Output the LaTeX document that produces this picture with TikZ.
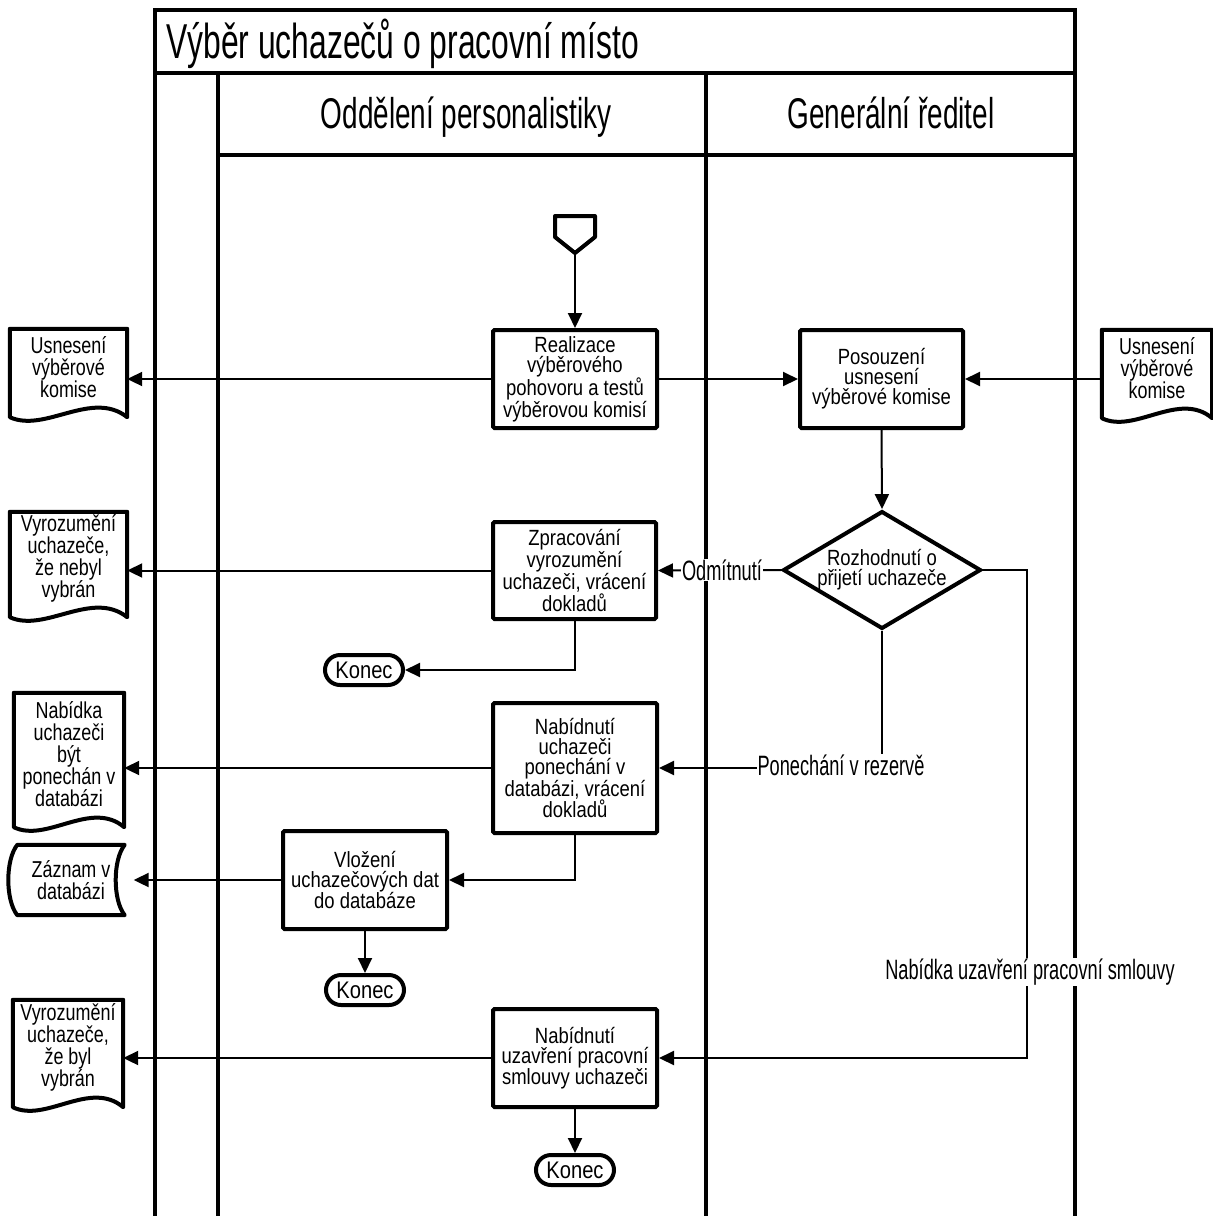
\documentclass[tikz,border=0pt]{standalone}
\usepackage{fontspec}
\setmainfont{Liberation Sans}
\newfontfamily\bigf{Liberation Sans}[FakeStretch=0.65]
\newfontfamily\smallf{Liberation Sans}[FakeStretch=0.84]
\newfontfamily\docf{Liberation Sans}[FakeStretch=0.78]
\usetikzlibrary{arrows.meta,shapes.geometric,calc}
\newcommand\drawdoc[1]{%
  \draw[line width=4pt,line join=round] (#1.north west) -- ($(#1.south west)+(0,12)$)
    .. controls ($(#1.south west)!0.3!(#1.south east)+(0,28)$) and ($(#1.south west)!0.7!(#1.south east)+(0,-16)$) ..
    ($(#1.south east)+(0,12)$) -- (#1.north east) -- cycle;}
\newcommand\drawstored[1]{%
  \draw[line width=4pt,line join=round] (#1.north west) -- (#1.north east)
    .. controls ($(#1.north east)+(-12,15)$) and ($(#1.south east)+(-12,-15)$) .. (#1.south east)
    -- (#1.south west)
    .. controls ($(#1.south west)+(-12,-15)$) and ($(#1.north west)+(-12,15)$) .. (#1.north west) -- cycle;}
\begin{document}
\begin{tikzpicture}[x=1pt,y=-1pt,
  pool/.style={line width=4.5pt},
  box/.style={draw,line width=4pt,rounded corners=1.5pt,align=center,inner sep=0pt,
    font={\smallf\fontsize{22}{20}\selectfont}},
  term/.style={draw,line width=4pt,rounded corners=15pt,inner sep=0pt,
    minimum width=78pt,minimum height=30pt,font={\smallf\fontsize{24}{20}\selectfont}},
  decision/.style={draw,diamond,line width=4pt,inner sep=0pt,align=center,
    minimum width=195pt,minimum height=116pt,aspect=1.68,font={\smallf\fontsize{22}{20}\selectfont}},
  docnode/.style={inner sep=0pt,align=center,font={\docf\fontsize{23}{22}\selectfont}},
  lbl/.style={fill=white,inner sep=1pt,font={\bigf\fontsize{28}{28}\selectfont}},
  conn/.style={line width=2pt},
  arr/.style={conn,-{Triangle[length=15pt,width=14pt]}}]
\useasboundingbox (0,0) rectangle (1213,1216);
% pool and lanes
\draw[pool] (155,1222) -- (155,10) -- (1075,10) -- (1075,1222);
\draw[pool] (155,73) -- (1075,73);
\draw[pool] (218,73) -- (218,1222);
\draw[pool] (706,73) -- (706,1222);
\draw[pool] (218,155) -- (1075,155);
\node[anchor=base west,inner sep=0pt,font={\bigf\fontsize{49}{49}\selectfont}] (title) at (166,58) {Výběr uchazečů o pracovní místo};
\node[anchor=base,inner sep=0pt,font={\bigf\fontsize{43}{43}\selectfont}] (lane1) at (466,128) {Oddělení personalistiky};
\node[anchor=base,inner sep=0pt,font={\bigf\fontsize{43}{43}\selectfont}] (lane2) at (891,128) {Generální ředitel};
% start
\draw[line width=4pt,line join=round] (555,216) -- (595,216) -- (595,237) -- (575,253) -- (555,237) -- cycle;
\coordinate (st) at (575,253);
% boxes
\node[box,minimum width=164pt,minimum height=98pt] (real) at (575,379) {Realizace\\výběrového\\pohovoru a testů\\výběrovou komisí};
\node[box,minimum width=163pt,minimum height=98pt] (pos) at (881.5,379) {Posouzení\\usnesení\\výběrové komise};
\node[decision] (dec) at (882,570) {Rozhodnutí o\\přijetí uchazeče};
\node[box,minimum width=163pt,minimum height=97pt] (zpr) at (574.5,570.5) {Zpracování\\vyrozumění\\uchazeči, vrácení\\dokladů};
\node[box,minimum width=164pt,minimum height=130pt] (nab2) at (575,768) {Nabídnutí\\uchazeči\\ponechání v\\databázi, vrácení\\dokladů};
\node[box,minimum width=164pt,minimum height=98pt] (vlo) at (365,880) {Vložení\\uchazečových dat\\do databáze};
\node[box,minimum width=164pt,minimum height=98pt] (nab3) at (575,1058) {Nabídnutí\\uzavření pracovní\\smlouvy uchazeči};
\node[term] (k1) at (364,670) {Konec};
\node[term] (k2) at (365,990) {Konec};
\node[term] (k3) at (575,1170) {Konec};
% documents
\node[docnode,minimum width=117pt,minimum height=76pt] (d1) at (68.5,367) {Usnesení\\výběrové\\komise};
\node[docnode,minimum width=110pt,minimum height=76pt] (dr) at (1157,368) {Usnesení\\výběrové\\komise};
\node[docnode,minimum width=117pt,minimum height=93pt] (d2) at (68.5,558.5) {Vyrozumění\\uchazeče,\\že nebyl\\vybrán};
\node[docnode,minimum width=110pt,minimum height=122pt] (d3) at (69,754) {Nabídka\\uchazeči\\být\\ponechán v\\databázi};
\node[docnode,minimum width=110pt,minimum height=95pt] (d4) at (68,1047.5) {Vyrozumění\\uchazeče,\\že byl\\vybrán};
\node[docnode,minimum width=107pt,minimum height=70pt] (zaz) at (71,880) {Záznam v\\databázi};
\drawdoc{d1}\drawdoc{dr}\drawdoc{d2}\drawdoc{d3}\drawdoc{d4}
\drawstored{zaz}
% connectors
\draw[arr] (st) -- (real.north);
\draw[arr] (real.west) -- (real.west -| d1.east);
\draw[arr] (real.east) -- (pos.west);
\draw[arr] (dr.west |- pos.east) -- (pos.east);
\draw[arr] (pos.south) -- (dec.north);
\draw[arr] (dec.west) -- (zpr.east);
\draw[arr] (zpr.west) -- (zpr.west -| d2.east);
\draw[arr] (zpr.south) |- (k1.east);
\draw[arr] (dec.south) |- (nab2.east);
\draw[arr] (nab2.west) -- (nab2.west -| d3.east);
\draw[arr] (nab2.south) |- (vlo.east);
\draw[arr,shorten >=9pt] (vlo.west) -- (vlo.west -| zaz.east);
\draw[arr] (vlo.south) -- (k2.north);
\coordinate (bend) at (1027,570);
\draw[arr] (dec.east) -- (bend) |- (nab3.east);
\draw[arr] (nab3.west) -- (nab3.west -| d4.east);
\draw[arr] (nab3.south) -- (k3.north);
% labels
\node[lbl] (l1) at (722,570) {Odmítnutí};
\node[lbl] (l2) at (841,765) {Ponechání v rezervě};
\node[lbl] (l3) at (1030,972) {Nabídka uzavření pracovní smlouvy};
\end{tikzpicture}
\end{document}
